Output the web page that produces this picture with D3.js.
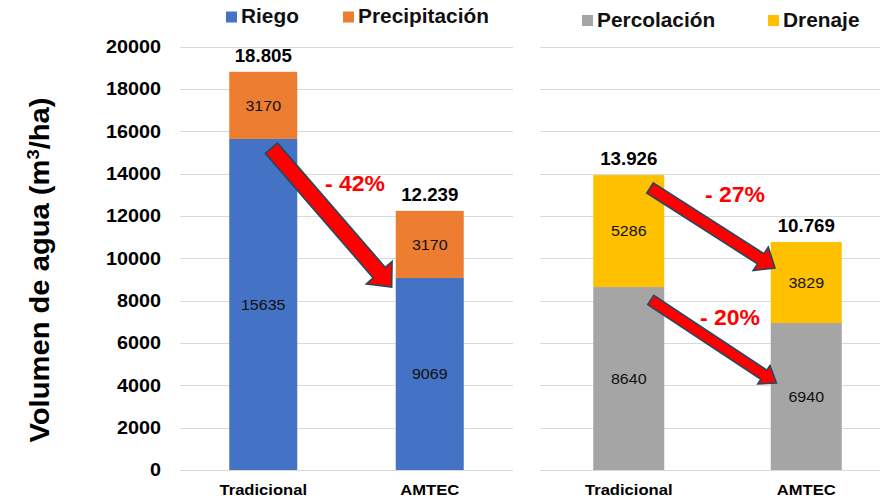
<!DOCTYPE html>
<html><head><meta charset="utf-8">
<script src="https://cdn.jsdelivr.net/npm/d3@7"></script>
<style>
html,body{margin:0;padding:0;background:#fff;}
svg{display:block;font-family:"Liberation Sans",Arial,sans-serif;}
</style></head>
<body><svg id="c" width="880" height="501"></svg>
<script>
// ---- data ----
const categories = ["Tradicional", "AMTEC"];
const riego = [15635, 9069];
const precipitacion = [3170, 3170];
const percolacion = [8640, 6940];
const drenaje = [5286, 3829];
const totalsLeft = ["18.805", "12.239"];
const totalsRight = ["13.926", "10.769"];
const yTicks = [0, 2000, 4000, 6000, 8000, 10000, 12000, 14000, 16000, 18000, 20000];
const legendLeft = ["Riego", "Precipitación"];
const legendRight = ["Percolación", "Drenaje"];
const colors = {Riego:"#4472C4", "Precipitación":"#ED7D31", "Percolación":"#A5A5A5", Drenaje:"#FFC000"};
// arrows: start value, end value, label, label height (in data units)
const arrowFromVal = [15200, 13320, 8030];
const arrowToVal = [8640, 9540, 4110];
const arrowLabels = ["- 42%", "- 27%", "- 20%"];
const arrowLabelVal = [13550, 13000, 7210];

const svg = d3.select("#c");
const y = d3.scaleLinear().domain([0, 20000]).range([470, 46.5]);
const xL = d3.scalePoint().domain(categories).range([180, 513]).padding(0.5);
const xR = d3.scalePoint().domain(categories).range([540, 895]).padding(0.5);
const bwL = 68, bwR = 71;
const sx = 1.07; // horizontal text stretch of the original

function stretchText(sel, x, yy, size){
  return sel.attr("transform", `translate(${x},${yy}) scale(${sx},1)`).attr("font-size", size);
}

// gridlines
function grid(x0, x1){
  svg.append("g").selectAll("line").data(yTicks).join("line")
    .attr("x1", x0).attr("x2", x1)
    .attr("y1", d => Math.round(y(d)) + 0.5).attr("y2", d => Math.round(y(d)) + 0.5)
    .attr("stroke", "#d9d9d9").attr("stroke-width", 1.2);
}
grid(180, 513);
grid(540, 880);

// y axis labels
const yAxis = d3.axisLeft(y).tickValues(yTicks).tickSize(0).tickPadding(0).tickFormat(d3.format("d"));
const ga = svg.append("g").attr("transform", "translate(161,0)").call(yAxis);
ga.select(".domain").remove();
ga.selectAll("text").attr("font-size", 18.5).attr("font-weight", "bold").attr("fill", "#000")
  .attr("font-family", "Liberation Sans, Arial, sans-serif")
  .attr("transform", `scale(${sx},1)`).attr("x", -0.0);

// y title
const t = svg.append("text").attr("transform", `translate(49,270) rotate(-90) scale(1.08,1)`)
  .attr("text-anchor", "middle").attr("font-size", 27).attr("font-weight", "bold").attr("fill", "#000");
t.append("tspan").text("Volumen de agua (m");
t.append("tspan").text("3").attr("font-size", 17).attr("dy", -10);
t.append("tspan").text("/ha)").attr("dy", 10);

// stacked bars
function panel(x, bw, s1, s2, n1, n2, totals){
  const g = svg.append("g");
  categories.forEach((c, i) => {
    const cx = x(c);
    g.append("rect").attr("x", cx - bw/2).attr("width", bw)
      .attr("y", y(s1[i])).attr("height", y(0) - y(s1[i])).attr("fill", colors[n1]);
    g.append("rect").attr("x", cx - bw/2).attr("width", bw)
      .attr("y", y(s1[i] + s2[i])).attr("height", y(s1[i]) - y(s1[i] + s2[i])).attr("fill", colors[n2]);
    stretchText(g.append("text"), cx, y(s1[i]/2), 15).attr("dy", "0.35em")
      .attr("text-anchor", "middle").attr("fill", "#111").text(s1[i]);
    stretchText(g.append("text"), cx, y(s1[i] + s2[i]/2), 15).attr("dy", "0.35em")
      .attr("text-anchor", "middle").attr("fill", "#111").text(s2[i]);
    stretchText(g.append("text"), cx, y(s1[i] + s2[i]) - 10, 17.5)
      .attr("text-anchor", "middle").attr("font-weight", "bold").attr("fill", "#000").text(totals[i]);
    stretchText(g.append("text"), cx, 495, 15.5)
      .attr("text-anchor", "middle").attr("font-weight", "bold").attr("fill", "#000").text(c);
  });
}
panel(xL, bwL, riego, precipitacion, "Riego", "Precipitación", totalsLeft);
panel(xR, bwR, percolacion, drenaje, "Percolación", "Drenaje", totalsRight);

// legends
function legend(names, xs, sqY, baseY){
  names.forEach((n, i) => {
    svg.append("rect").attr("x", xs[i]).attr("y", sqY).attr("width", 11).attr("height", 11).attr("fill", colors[n]);
    stretchText(svg.append("text"), xs[i] + 15, baseY, 19.5)
      .attr("font-weight", "bold").attr("fill", "#111").text(n);
  });
}
legend(legendLeft, [226, 343], 11.5, 23);
legend(legendRight, [582, 768], 15, 27);

// arrows
function arrowPath(T, P, w, hw, hl){
  const dx = P[0]-T[0], dy = P[1]-T[1], L = Math.hypot(dx, dy);
  const u = [dx/L, dy/L], n = [-u[1], u[0]];
  const B = [P[0]-u[0]*hl, P[1]-u[1]*hl];
  const pt = (b, k) => [b[0]+n[0]*k, b[1]+n[1]*k];
  return d3.line()([pt(T, w/2), pt(B, w/2), pt(B, hw/2), P, pt(B, -hw/2), pt(B, -w/2), pt(T, -w/2)]) + "Z";
}
const arrowSpecs = [
  {x: xL, bw: bwL, fo: 0.12, to: -0.56, w: 16, hw: 34, hl: 19},
  {x: xR, bw: bwR, fo: 0.30, to: -0.44, w: 12, hw: 28, hl: 17},
  {x: xR, bw: bwR, fo: 0.31, to: -0.42, w: 11, hw: 22, hl: 15}
];
const labelX = [355, 735, 730];
arrowSpecs.forEach((a, i) => {
  const T = [a.x("Tradicional") + a.fo*a.bw, y(arrowFromVal[i])];
  const P = [a.x("AMTEC") + a.to*a.bw, y(arrowToVal[i])];
  svg.append("path").attr("d", arrowPath(T, P, a.w, a.hw, a.hl))
    .attr("fill", "#FF0000").attr("stroke", "#24495e").attr("stroke-width", 1.6).attr("stroke-linejoin", "miter");
  stretchText(svg.append("text"), labelX[i], y(arrowLabelVal[i]), 21.5).attr("dy", "0.35em")
    .attr("text-anchor", "middle").attr("font-weight", "bold").attr("fill", "#FF0000").text(arrowLabels[i]);
});
</script></body></html>
